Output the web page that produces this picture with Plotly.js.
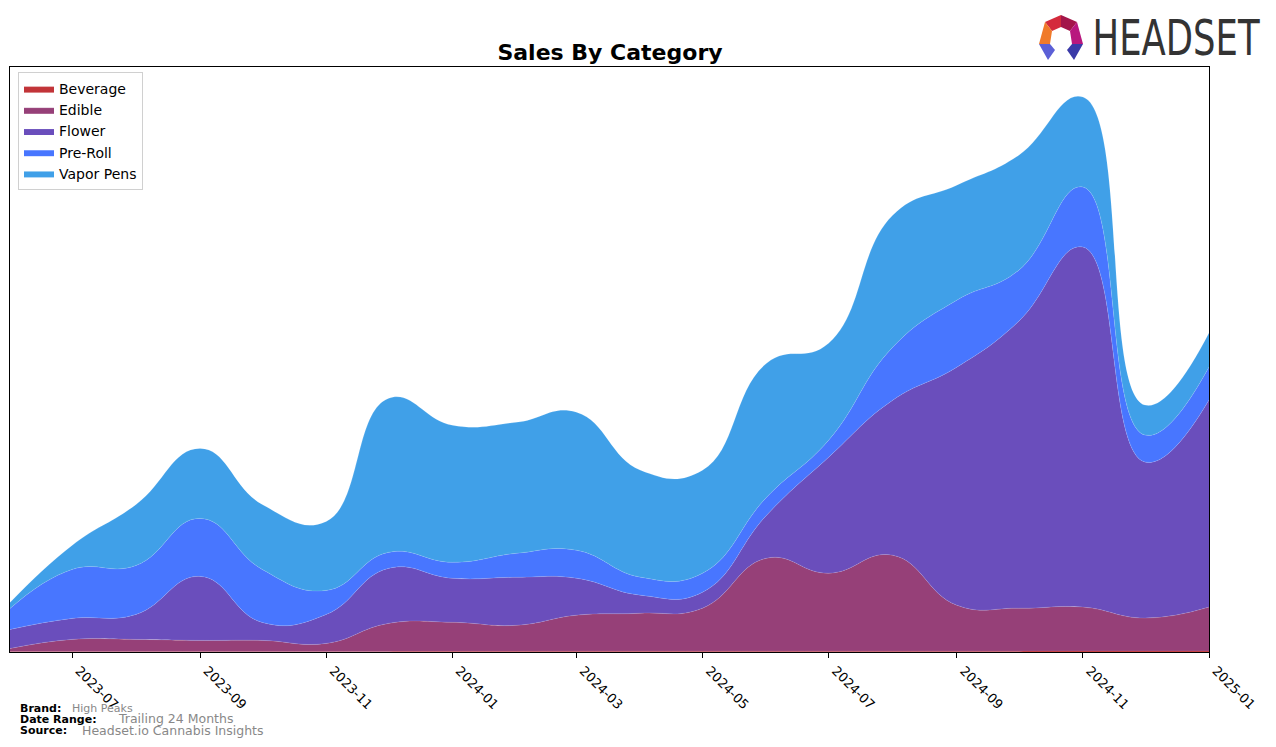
<!DOCTYPE html>
<html>
<head>
<meta charset="utf-8">
<script src="https://cdn.plot.ly/plotly-3.0.1.min.js"></script>
<style>
  html, body { margin: 0; padding: 0; background: #fff; }
  #chart { width: 1276px; height: 747px; }
</style>
</head>
<body>
<div id="chart"></div>
<script>
// monthly sales by category (arbitrary units)
let months = ['2023-06-01','2023-07-01','2023-08-01','2023-09-01','2023-10-01','2023-11-01','2023-12-01',
              '2024-01-01','2024-02-01','2024-03-01','2024-04-01','2024-05-01','2024-06-01','2024-07-01',
              '2024-08-01','2024-09-01','2024-10-01','2024-11-01','2024-12-01','2025-01-01'];

let beverage  = [0.5, 0.6, 0.6, 0.6, 0.6, 0.6, 0.6, 0.7, 0.7, 0.8, 0.8, 0.8, 0.8, 0.8, 0.8, 0.8, 0.8, 0.9, 0.9, 0.9];
let edible    = [3, 12, 12, 11, 11, 8, 28, 29, 26, 36, 38, 43, 93, 78, 96, 46, 43, 44, 33, 44];
let flower    = [19, 21, 25, 64, 18, 29, 55, 44, 48, 37, 18, 16, 43, 116, 155, 238, 287, 360, 156, 207];
let preRoll   = [21, 49, 49, 58, 53, 24, 16, 16, 24, 28, 18, 19, 18, 17, 53, 67, 51, 60, 27, 33];
let vaporPens = [6, 24, 61, 70, 65, 69, 154, 137, 131, 138, 107, 103, 134, 97, 132, 115, 115, 90, 30, 34];

let categories = ['Beverage', 'Edible', 'Flower', 'Pre-Roll', 'Vapor Pens'];
let seriesList = [beverage, edible, flower, preRoll, vaporPens];
let colorArray = ['rgb(194,52,56)', 'rgb(150,64,120)', 'rgb(106,78,188)', 'rgb(72,118,255)', 'rgb(64,160,232)'];

// figure geometry (pixels) -> paper coords helpers
let W = 1276, H = 747;
let mL = 10, mR = 67, mT = 67, mB = 95;
let plotW = W - mL - mR, plotH = H - mT - mB;
function px(x) { return (x - mL) / plotW; }
function py(y) { return (H - mB - y) / plotH; }

let traces = [];
for (let i = 0; i < categories.length; i++) {
  traces.push({
    x: months,
    y: seriesList[i],
    name: categories[i],
    type: 'scatter',
    mode: 'lines',
    stackgroup: 'one',
    line: { shape: 'spline', smoothing: 1.3, width: 0.5, color: 'rgba(255,255,255,0.25)' },
    fillcolor: colorArray[i],
    hoverinfo: 'x+y+name'
  });
}

let footFont = { family: 'DejaVu Sans, sans-serif', size: 11, color: '#000' };
let greyFont = { family: 'DejaVu Sans, sans-serif', color: '#888' };

function poly(pts, color) {
  let d = 'M ' + pts.map(p => px(p[0]) + ',' + py(p[1])).join(' L ') + ' Z';
  return { type: 'path', xref: 'paper', yref: 'paper', path: d, fillcolor: color, line: { width: 0 }, layer: 'above' };
}

// Headset logo mark
let logoShapes = [
  poly([[1045,22],[1061,15],[1061,27],[1052,31]], '#d42a3c'),
  poly([[1061,15],[1077,22],[1070,31],[1061,27]], '#a3164a'),
  poly([[1045,22],[1052,31],[1050,44],[1039,44]], '#f07a2a'),
  poly([[1077,22],[1083,44],[1072,44],[1070,31]], '#b8187e'),
  poly([[1039,44],[1050,44],[1055,50],[1048,60]], '#5b5fd6'),
  poly([[1083,44],[1072,44],[1067,50],[1074,60]], '#3a3aa8')
];

var layout = {
  width: W,
  height: H,
  margin: { l: mL, r: mR, t: mT, b: mB, pad: 0 },
  paper_bgcolor: '#fff',
  plot_bgcolor: '#fff',
  showlegend: true,
  title: {
    text: '<b>Sales By Category</b>',
    font: { family: 'DejaVu Sans, sans-serif', size: 22, color: '#000' },
    x: px(610), xref: 'paper', xanchor: 'center',
    y: 1 - 52 / H, yanchor: 'middle'
  },
  xaxis: {
    type: 'date',
    range: ['2023-06-01', '2025-01-01'],
    tick0: '2023-07-01',
    dtick: 'M2',
    tickformat: '%Y-%m',
    tickangle: 45,
    ticks: 'outside',
    ticklen: 5,
    tickcolor: '#000',
    ticklabelshift: 7,
    tickfont: { family: 'DejaVu Sans, sans-serif', size: 13, color: '#000' },
    showgrid: false,
    zeroline: false,
    showline: true,
    linecolor: '#000',
    linewidth: 1,
    mirror: true
  },
  yaxis: {
    range: [0, 585],
    showticklabels: false,
    ticks: '',
    showgrid: false,
    zeroline: false,
    showline: true,
    linecolor: '#000',
    linewidth: 1,
    mirror: true
  },
  legend: {
    x: px(18), y: py(72), xanchor: 'left', yanchor: 'top',
    traceorder: 'normal',
    bgcolor: 'rgba(255,255,255,0.8)',
    bordercolor: '#d0d0d0',
    borderwidth: 1,
    font: { family: 'DejaVu Sans, sans-serif', size: 14, color: '#000' },
    itemwidth: 30
  },
  shapes: logoShapes,
  annotations: [
    { text: 'HEADSET', xref: 'paper', yref: 'paper', x: px(1176.5), y: py(38), xanchor: 'center', yanchor: 'middle',
      showarrow: false, font: { family: 'DejaVu Sans Condensed, DejaVu Sans, sans-serif', size: 50, color: '#333' } },
    { text: '<b>Brand:</b>', xref: 'paper', yref: 'paper', x: px(18), y: py(708), xanchor: 'left', yanchor: 'middle',
      showarrow: false, font: footFont },
    { text: 'High Peaks', xref: 'paper', yref: 'paper', x: px(70), y: py(708), xanchor: 'left', yanchor: 'middle',
      showarrow: false, font: Object.assign({ size: 11 }, greyFont) },
    { text: '<b>Date Range:</b>', xref: 'paper', yref: 'paper', x: px(18), y: py(719), xanchor: 'left', yanchor: 'middle',
      showarrow: false, font: footFont },
    { text: 'Trailing 24 Months', xref: 'paper', yref: 'paper', x: px(116), y: py(718.5), xanchor: 'left', yanchor: 'middle',
      showarrow: false, font: Object.assign({ size: 12.5 }, greyFont) },
    { text: '<b>Source:</b>', xref: 'paper', yref: 'paper', x: px(18), y: py(730), xanchor: 'left', yanchor: 'middle',
      showarrow: false, font: footFont },
    { text: 'Headset.io Cannabis Insights', xref: 'paper', yref: 'paper', x: px(80), y: py(730), xanchor: 'left', yanchor: 'middle',
      showarrow: false, font: Object.assign({ size: 12.5 }, greyFont) }
  ]
};

Plotly.newPlot('chart', traces, layout, { displayModeBar: false, staticPlot: true }).then(function () {
  // squeeze the wordmark to the logo's width
  document.querySelectorAll('.annotation-text').forEach(function (t) {
    if (t.textContent === 'HEADSET') {
      t.setAttribute('textLength', 167);
      t.setAttribute('lengthAdjust', 'spacingAndGlyphs');
    }
  });
});
</script>
</body>
</html>
